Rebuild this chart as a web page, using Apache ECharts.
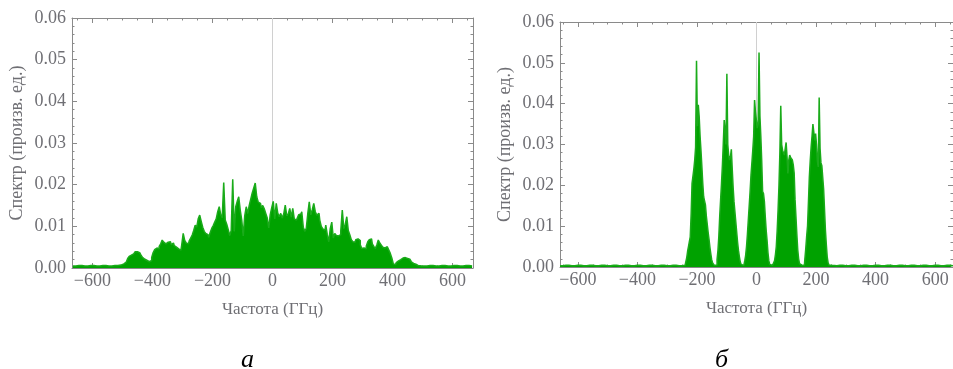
<!DOCTYPE html>
<html>
<head>
<meta charset="utf-8">
<title>Спектр</title>
<script src="https://cdn.jsdelivr.net/npm/echarts@6/dist/echarts.min.js"></script>
<style>
    html, body { margin: 0; padding: 0; background: #fff; }
    #spectra { width: 953px; height: 369px; }
</style>
</head>
<body>
<div id="spectra"></div>
<script>
// ------------------------------
// Data
// ------------------------------

// Ticks
var xTicks = [-600, -400, -200, 0, 200, 400, 600];
var yTicks = [0, 0.01, 0.02, 0.03, 0.04, 0.05, 0.06];

// Panel а - frequency (GHz)
var freqA = [-665, -645, -625, -605, -585, -565, -545, -525, -505,
    -495, -490, -485, -480, -475, -470, -465, -460, -455, -450, -445, -440, -435, -430, -425, -420, -415, -410, -405,
    -400, -395, -390, -385, -380, -375, -370, -365, -360, -355, -350, -345, -340, -335, -330, -325, -320, -315, -310, -305,
    -300, -295, -290, -285, -280, -275, -270, -265, -260, -255, -250, -245, -240, -235, -230, -225, -220, -215, -210, -205,
    -200, -195, -190, -185, -180, -175, -170, -165, -160, -155, -150, -145, -140, -135, -130, -125, -120, -115, -110, -105,
    -100, -95, -90, -85, -80, -75, -70, -65, -60, -55, -50, -45, -40, -35, -30, -25, -20, -15, -10, -5, 0,
    5, 10, 15, 20, 25, 30, 35, 40, 45, 50, 55, 60, 65, 70, 75, 80, 85, 90, 95, 100,
    105, 110, 115, 120, 125, 130, 135, 140, 145, 150, 155, 160, 165, 170, 175, 180, 185, 190, 195, 200,
    205, 210, 215, 220, 225, 230, 235, 240, 245, 250, 255, 260, 265, 270, 275, 280, 285, 290, 295, 300,
    305, 310, 315, 320, 325, 330, 335, 340, 345, 350, 355, 360, 365, 370, 375, 380, 385, 390, 395, 400,
    405, 410, 415, 420, 425, 430, 435, 440, 445, 450, 455, 460, 465, 470, 475, 480, 485, 490,
    505, 525, 545, 565, 585, 605, 625, 645, 665];

// Panel а - spectrum (arb. units)
var specA = [0.0005, 0.0006, 0.0005, 0.0006, 0.0005, 0.0006, 0.0005, 0.0006, 0.0007,
    0.0010, 0.0014, 0.0018, 0.0023, 0.0028, 0.0031, 0.0034, 0.0037, 0.0039, 0.0039, 0.0037, 0.0034, 0.0030, 0.0025, 0.0021, 0.0018, 0.0016, 0.0015, 0.0018,
    0.0025, 0.0037, 0.0044, 0.0048, 0.0046, 0.0052, 0.0058, 0.0067, 0.0062, 0.0058, 0.0062, 0.0066, 0.0063, 0.0056, 0.0060, 0.0054, 0.0050, 0.0046, 0.0045, 0.0043,
    0.0055, 0.0083, 0.0066, 0.0060, 0.0058, 0.0065, 0.0072, 0.0079, 0.0090, 0.0103, 0.0098, 0.0118, 0.0127, 0.0112, 0.0098, 0.0088, 0.0083, 0.0080, 0.0074, 0.0085,
    0.0095, 0.0102, 0.0110, 0.0118, 0.0135, 0.0147, 0.0128, 0.0121, 0.0205, 0.0115, 0.0105, 0.0092, 0.0078, 0.0090, 0.0213, 0.0088, 0.0147, 0.0160, 0.0171, 0.0139,
    0.0115, 0.0077, 0.0125, 0.0147, 0.0131, 0.0150, 0.0165, 0.0180, 0.0192, 0.0204, 0.0171, 0.0158, 0.0155, 0.0145, 0.0150, 0.0142, 0.0131, 0.0120, 0.0096, 0.0128, 0.0145,
    0.0160, 0.0118, 0.0155, 0.0132, 0.0123, 0.0131, 0.0120, 0.0130, 0.0151, 0.0125, 0.0130, 0.0143, 0.0122, 0.0143, 0.0118, 0.0115, 0.0120, 0.0128, 0.0130, 0.0135,
    0.0098, 0.0088, 0.0095, 0.0130, 0.0159, 0.0128, 0.0140, 0.0155, 0.0135, 0.0127, 0.0131, 0.0115, 0.0100, 0.0094, 0.0091, 0.0103, 0.0080, 0.0063, 0.0095, 0.0110,
    0.0072, 0.0083, 0.0078, 0.0077, 0.0080, 0.0090, 0.0139, 0.0095, 0.0105, 0.0123, 0.0090, 0.0080, 0.0068, 0.0063, 0.0062, 0.0068, 0.0070, 0.0066, 0.0056, 0.0047,
    0.0048, 0.0046, 0.0053, 0.0063, 0.0068, 0.0070, 0.0058, 0.0052, 0.0047, 0.0055, 0.0067, 0.0060, 0.0055, 0.0050, 0.0048, 0.0051, 0.0047, 0.0043, 0.0035, 0.0024,
    0.0010, 0.0008, 0.0013, 0.0017, 0.0020, 0.0023, 0.0024, 0.0025, 0.0024, 0.0023, 0.0021, 0.0018, 0.0015, 0.0011, 0.0009, 0.0007, 0.0006, 0.0005,
    0.0005, 0.0006, 0.0005, 0.0006, 0.0005, 0.0006, 0.0005, 0.0006, 0.0005];

// Panel б - frequency (GHz)
var freqB = [-660, -640, -620, -600, -580, -560, -540, -520, -500, -480, -460, -440, -420, -400, -380, -360, -340, -320, -300, -280, -260, -240,
    -236, -233, -230, -227, -224, -221, -218, -215, -212, -209, -206, -203, -200, -197, -194, -191, -188, -185, -182, -179,
    -176, -173, -170, -167, -164, -161, -158, -155, -152, -149, -146, -143, -140,
    -137, -134, -131, -128, -125, -122, -119, -116, -113, -110, -107, -104, -101, -98, -95, -92, -89, -86, -83, -80,
    -77, -74, -71, -68, -65, -62, -59, -56, -53, -50, -47,
    -44, -41, -38, -35, -32, -29, -26, -23, -20, -17, -14, -11, -8, -5, -2, 1, 4, 7, 10, 13, 16, 19, 22, 25, 28,
    31, 34, 37, 40, 43, 46, 49, 52,
    56, 59, 62, 65, 68, 71, 74, 77, 80, 83, 86, 89, 92, 95, 98, 101, 104, 107, 110, 113, 116, 119, 122, 125, 128,
    131, 134, 137, 140, 143, 146, 149, 152, 156,
    161, 164, 167, 170, 173, 176, 179, 182, 185, 188, 191, 194, 197, 200, 203, 206, 209, 212, 215, 218, 221, 224,
    227, 230, 233, 236, 239, 242, 245, 248,
    260, 280, 300, 320, 340, 360, 380, 400, 420, 440, 460, 480, 500, 520, 540, 560, 580, 600, 620, 640, 660];

// Panel б - spectrum (arb. units)
var specB = [0.0003, 0.0004, 0.0003, 0.0004, 0.0003, 0.0004, 0.0003, 0.0004, 0.0003, 0.0004, 0.0003, 0.0004, 0.0003, 0.0004, 0.0003, 0.0004, 0.0003, 0.0004, 0.0003, 0.0004, 0.0003, 0.0004,
    0.0006, 0.0022, 0.0038, 0.0050, 0.0062, 0.0074, 0.0130, 0.0205, 0.0222, 0.0240, 0.0262, 0.0294, 0.0505, 0.0345, 0.0397, 0.0368, 0.0320, 0.0285, 0.0246, 0.0205,
    0.0172, 0.0162, 0.0152, 0.0125, 0.0105, 0.0085, 0.0068, 0.0048, 0.0032, 0.0018, 0.0010, 0.0006, 0.0004,
    0.0004, 0.0005, 0.0018, 0.0040, 0.0075, 0.0125, 0.0165, 0.0205, 0.0250, 0.0303, 0.0360, 0.0335, 0.0300, 0.0473, 0.0300, 0.0274, 0.0262, 0.0270, 0.0288, 0.0240,
    0.0195, 0.0160, 0.0135, 0.0110, 0.0085, 0.0060, 0.0040, 0.0025, 0.0012, 0.0006, 0.0004,
    0.0004, 0.0005, 0.0015, 0.0028, 0.0050, 0.0080, 0.0115, 0.0150, 0.0185, 0.0225, 0.0255, 0.0286, 0.0320, 0.0409, 0.0380, 0.0360, 0.0340, 0.0350, 0.0525, 0.0370, 0.0320, 0.0260, 0.0185, 0.0180, 0.0160,
    0.0123, 0.0090, 0.0065, 0.0035, 0.0015, 0.0006, 0.0004, 0.0004,
    0.0004, 0.0008, 0.0015, 0.0030, 0.0050, 0.0090, 0.0140, 0.0200, 0.0280, 0.0395, 0.0300, 0.0286, 0.0280, 0.0274, 0.0290, 0.0305, 0.0270, 0.0229, 0.0262, 0.0274, 0.0268, 0.0265, 0.0262, 0.0250, 0.0230,
    0.0165, 0.0123, 0.0080, 0.0042, 0.0020, 0.0008, 0.0005, 0.0004, 0.0004,
    0.0005, 0.0020, 0.0045, 0.0075, 0.0101, 0.0160, 0.0221, 0.0260, 0.0294, 0.0320, 0.0350, 0.0330, 0.0310, 0.0327, 0.0300, 0.0260, 0.0245, 0.0415, 0.0290, 0.0255, 0.0248, 0.0250,
    0.0190, 0.0140, 0.0090, 0.0055, 0.0025, 0.0010, 0.0005, 0.0004,
    0.0003, 0.0004, 0.0003, 0.0004, 0.0003, 0.0004, 0.0003, 0.0004, 0.0003, 0.0004, 0.0003, 0.0004, 0.0003, 0.0004, 0.0003, 0.0004, 0.0003, 0.0004, 0.0003, 0.0004, 0.0003];


// Setup module
// ------------------------------

var SpectraPlot = function() {

    var frameColor = '#8a8a8a';
    var textColor = '#6f6f74';
    var serif = '"Liberation Serif", "DejaVu Serif", serif';

    // Minor tick positions
    var xMinor = [];
    for (var i = -13; i <= 13; i++) xMinor.push(i * 50);
    var yMinor = [];
    for (var j = 0; j <= 30; j++) yMinor.push(Math.round(j * 2) / 1000);

    var fmtX = function(v) {
        return v < 0 ? '\u2212' + Math.abs(v) : String(v);
    };
    var fmtY = function(v) {
        return v.toFixed(2);
    };

    // One tick-only axis of the frame
    var frameAxis = function(grid, min, max, position, ticks, len, showLine) {
        return {
            type: 'value',
            gridIndex: grid,
            position: position,
            min: min,
            max: max,
            splitLine: { show: false },
            axisLine: { show: showLine, onZero: false, lineStyle: { color: frameColor, width: 1 } },
            axisTick: { inside: true, length: len, customValues: ticks, lineStyle: { color: frameColor, width: 1 } },
            axisLabel: { show: false }
        };
    };

    var panelAxes = function(grid, xMin, xMax) {
        var bottom = frameAxis(grid, xMin, xMax, 'bottom', xTicks, 5, true);
        bottom.name = 'Частота (ГГц)';
        bottom.nameLocation = 'middle';
        bottom.nameGap = 33;
        bottom.nameTextStyle = { fontFamily: serif, fontSize: 17, color: textColor };
        bottom.axisLabel = { show: true, customValues: xTicks, formatter: fmtX, margin: 4,
            fontFamily: serif, fontSize: 18, color: textColor };

        var left = frameAxis(grid, 0, 0.06, 'left', yTicks, 5, true);
        left.name = 'Спектр (произв. ед.)';
        left.nameLocation = 'middle';
        left.nameGap = 46;
        left.nameTextStyle = { fontFamily: serif, fontSize: 18, color: textColor };
        left.axisLabel = { show: true, customValues: yTicks, formatter: fmtY, margin: 6,
            fontFamily: serif, fontSize: 18, color: textColor };

        return {
            x: [
                bottom,
                frameAxis(grid, xMin, xMax, 'bottom', xMinor, 2.5, false),
                frameAxis(grid, xMin, xMax, 'top', xTicks, 5, true),
                frameAxis(grid, xMin, xMax, 'top', xMinor, 2.5, false)
            ],
            y: [
                left,
                frameAxis(grid, 0, 0.06, 'left', yMinor, 2.5, false),
                frameAxis(grid, 0, 0.06, 'right', yTicks, 5, true),
                frameAxis(grid, 0, 0.06, 'right', yMinor, 2.5, false)
            ]
        };
    };

    var spectrumSeries = function(axisIndex, freq, spec) {
        return {
            type: 'line',
            xAxisIndex: axisIndex,
            yAxisIndex: axisIndex,
            showSymbol: false,
            step: 'middle',
            z: 3,
            data: freq.map(function(f, k) { return [f, spec[k]]; }),
            lineStyle: { color: '#1aab1a', width: 1.5 },
            areaStyle: { color: '#00a200', opacity: 1, origin: 'start' },
            markLine: {
                z: 1,
                silent: true,
                symbol: 'none',
                label: { show: false },
                lineStyle: { color: '#d0d0d0', type: 'solid', width: 1 },
                data: [{ xAxis: 0 }]
            }
        };
    };

    var _init = function() {
        if (typeof echarts == 'undefined') {
            console.warn('Warning - echarts.min.js is not loaded.');
            return;
        }

        var element = document.getElementById('spectra');
        var chart = echarts.init(element, null, { renderer: 'canvas' });

        var axesA = panelAxes(0, -668, 668);
        var axesB = panelAxes(1, -660, 660);

        chart.setOption({
            animation: false,
            textStyle: { fontFamily: serif },

            // Panel captions
            title: [
                { text: 'а', left: 236, top: 342,
                  textStyle: { fontFamily: serif, fontStyle: 'italic', fontWeight: 'normal', fontSize: 26, color: '#000' } },
                { text: 'б', left: 710, top: 342,
                  textStyle: { fontFamily: serif, fontStyle: 'italic', fontWeight: 'normal', fontSize: 26, color: '#000' } }
            ],

            grid: [
                { left: 72, top: 18, width: 401, height: 250 },
                { left: 560, top: 22, width: 396, height: 245 }
            ],

            xAxis: axesA.x.concat(axesB.x),
            yAxis: axesA.y.concat(axesB.y),

            series: [
                spectrumSeries(0, freqA, specA),
                spectrumSeries(4, freqB, specB)
            ]
        });
    };

    return {
        init: function() {
            _init();
        }
    };
}();


// Initialize module
// ------------------------------

document.addEventListener('DOMContentLoaded', function() {
    SpectraPlot.init();
});
</script>
</body>
</html>
